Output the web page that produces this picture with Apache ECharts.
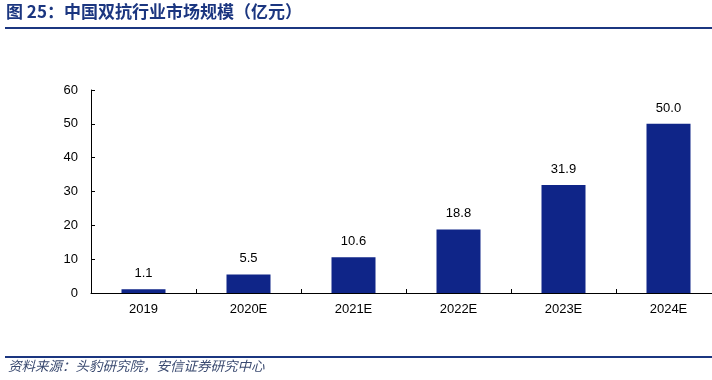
<!DOCTYPE html>
<html><head><meta charset="utf-8">
<script src="https://cdn.jsdelivr.net/npm/echarts@6/dist/echarts.min.js"></script>
<style>html,body{margin:0;padding:0;background:#fff;overflow:hidden}#c{width:722px;height:380px}</style>
</head><body><div id="c"></div>
<script>
const categories = ['2019','2020E','2021E','2022E','2023E','2024E'];
const values = [1.1, 5.5, 10.6, 18.8, 31.9, 50.0];
const yTicks = [0,10,20,30,40,50,60];
const titleText = '图 25：中国双抗行业市场规模（亿元）';
const sourceText = '资料来源：头豹研究院，安信证券研究中心';

const chart = echarts.init(document.getElementById('c'));
chart.setOption({
  animation: false,
  backgroundColor: '#fff',
  grid: { left: 91, top: 90, width: 630, height: 203, containLabel: false },
  xAxis: {
    type: 'category', data: categories,
    axisLine: { lineStyle: { color: '#000', width: 1 } },
    axisTick: { show: true, inside: true, length: 4, alignWithLabel: false, lineStyle: { color: '#000' } },
    axisLabel: { color: '#000', fontSize: 13, fontFamily: 'Liberation Sans, Arial', margin: 10 }
  },
  yAxis: {
    type: 'value', min: yTicks[0], max: yTicks[yTicks.length-1], interval: 10,
    splitLine: { show: false },
    axisLine: { show: true, lineStyle: { color: '#000', width: 1 } },
    axisTick: { show: true, inside: true, length: 4, lineStyle: { color: '#000' } },
    axisLabel: { color: '#000', fontSize: 13, fontFamily: 'Liberation Sans, Arial', margin: 13 }
  },
  series: [{
    type: 'bar', data: values, barWidth: 44,
    itemStyle: { color: '#0f2588' },
    label: { show: true, position: 'top', distance: 9, color: '#000', fontSize: 13,
      fontFamily: 'Liberation Sans, Arial', formatter: p => p.value.toFixed(1) }
  }],
  graphic: [
    { type: 'text', left: 6, top: 3, style: { text: titleText, fill: '#1b3680', font: 'bold 17px "Noto Sans CJK SC", sans-serif' } },
    { type: 'rect', shape: { x: 5, y: 27, width: 717, height: 2 }, style: { fill: '#1b3680' } },
    { type: 'rect', shape: { x: 5, y: 356, width: 717, height: 2 }, style: { fill: '#1b3680' } },
    { type: 'text', left: 8, top: 359, style: { text: sourceText, fill: '#3a4a70', font: 'italic 13.5px "Noto Sans CJK SC", sans-serif' } }
  ]
});
</script></body></html>
